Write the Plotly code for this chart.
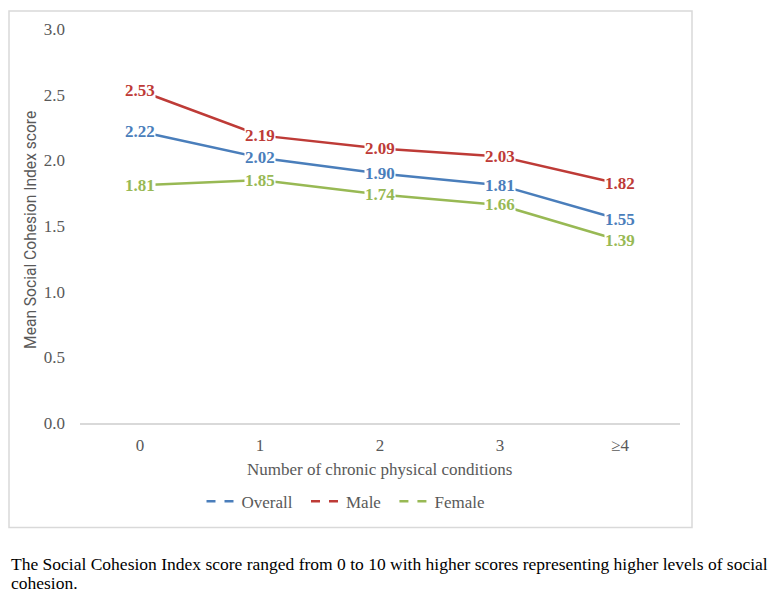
import plotly.graph_objects as go

categories = ["0", "1", "2", "3", "≥4"]
overall = [2.22, 2.02, 1.90, 1.81, 1.55]
male = [2.53, 2.19, 2.09, 2.03, 1.82]
female = [1.81, 1.85, 1.74, 1.66, 1.39]
y_ticks = [0.0, 0.5, 1.0, 1.5, 2.0, 2.5, 3.0]

series = [("Overall", overall, "#4A7EBB"), ("Male", male, "#BE3B37"), ("Female", female, "#98B954")]

serif = "Liberation Serif, Times New Roman, serif"

# plot area in window pixels: x 80..680, y 27..423
PL, PR, PT, PB = 80, 680, 27, 423
PW, PH = PR - PL, PB - PT


def px(x):
    return (x - PL) / PW


def py(y):
    return (PB - y) / PH


fig = go.Figure()
annotations = []
for name, vals, col in series:
    fig.add_trace(go.Scatter(x=categories, y=vals, mode="lines", name=name,
                             line=dict(color=col, width=2.5), showlegend=False,
                             hoverinfo="skip"))
    fig.add_trace(go.Scatter(x=[None], y=[None], mode="lines", name=name + "\u00a0\u00a0",
                             line=dict(color=col, width=2.5, dash="dash")))
    for c, v in zip(categories, vals):
        annotations.append(dict(x=c, y=v, xref="x", yref="y", text=f"<b>{v:.2f}</b>",
                                showarrow=False, bgcolor="white", borderpad=0,
                                font=dict(family=serif, size=17, color=col),
                                xanchor="center", yanchor="middle"))

# axis titles
annotations.append(dict(text="Number of chronic physical conditions", xref="paper", yref="paper",
                        x=px(379), y=py(470), showarrow=False,
                        xanchor="center", yanchor="middle",
                        font=dict(family=serif, size=17, color="#595959")))
annotations.append(dict(text="Mean Social Cohesion Index score", xref="paper", yref="paper",
                        x=px(31), y=py(229), showarrow=False, textangle=-90,
                        xanchor="center", yanchor="middle",
                        font=dict(family="Roboto, Liberation Sans, sans-serif", size=15.6, color="#595959")))
# caption (two lines)
caption_lines = ["The Social Cohesion Index score ranged from 0 to 10 with higher scores representing higher levels of social",
                 "cohesion."]
for i, line in enumerate(caption_lines):
    annotations.append(dict(text=line, xref="paper", yref="paper", x=px(8.5), y=py(565 + 19 * i),
                            showarrow=False, xanchor="left", yanchor="middle", align="left",
                            font=dict(family=serif, size=17.5, color="black")))

OFF = 8  # page body margin
fig.update_layout(
    width=776 - OFF, height=594 - OFF,
    margin=dict(l=PL - OFF, r=776 - PR, t=PT - OFF, b=594 - PB),
    paper_bgcolor="white", plot_bgcolor="white",
    annotations=annotations,
    showlegend=True,
    legend=dict(orientation="h", x=px(350), xanchor="center",
                y=py(502), yanchor="middle",
                font=dict(family=serif, size=17, color="#595959"),
                itemwidth=30, tracegroupgap=0),
    shapes=[dict(type="rect", xref="paper", yref="paper",
                 x0=px(9), x1=px(692), y0=py(528), y1=py(9),
                 line=dict(color="#D9D9D9", width=1.5), fillcolor="rgba(0,0,0,0)", layer="below")],
)
fig.update_xaxes(type="category", range=[-0.5, 4.5], showgrid=False, zeroline=False,
                 showline=True, linecolor="#D9D9D9", linewidth=1.5,
                 ticks="", ticklabelstandoff=6,
                 tickfont=dict(family=serif, size=17, color="#595959"))
fig.update_yaxes(range=[0, 3], tickvals=y_ticks, ticktext=[f"{t:.1f}" for t in y_ticks],
                 showgrid=False, zeroline=False, showline=False, ticks="",
                 ticklabelstandoff=14,
                 tickfont=dict(family=serif, size=17, color="#595959"))

fig.write_html("out.html")
